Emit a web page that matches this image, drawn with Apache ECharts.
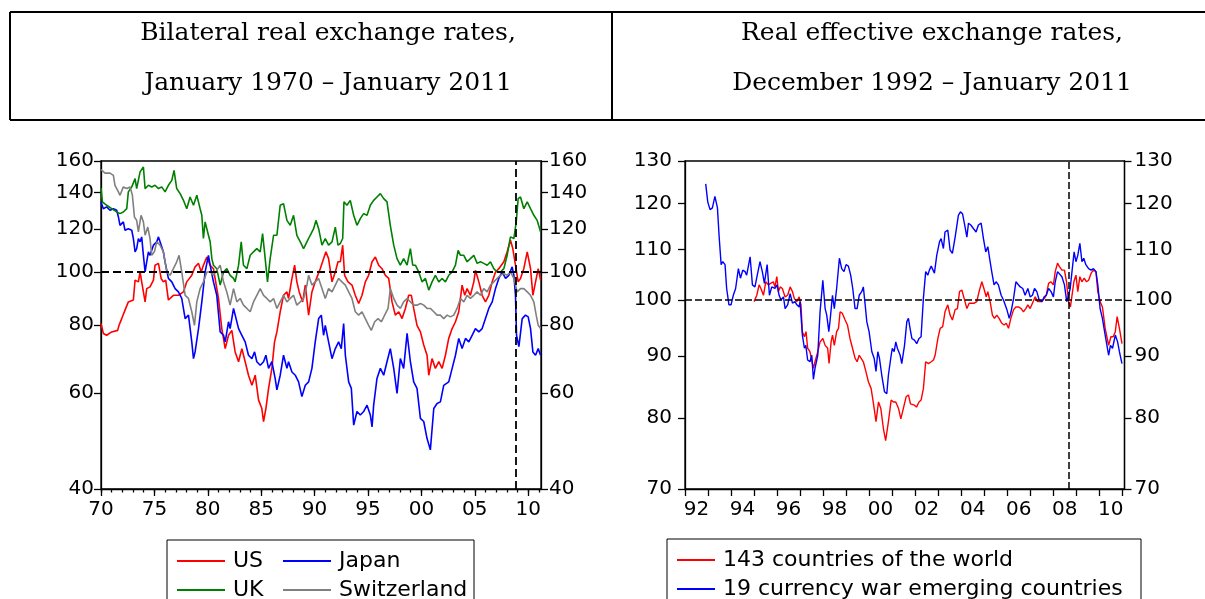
<!DOCTYPE html>
<html><head><meta charset="utf-8">
<script src="https://cdn.jsdelivr.net/npm/echarts@6.0.0/dist/echarts.min.js"></script>
<style>html,body{margin:0;padding:0;background:#fff}#c{width:1205px;height:599px}</style>
</head><body><div id="c"></div>
<script>
// ---- Left panel: bilateral real exchange rates (decimal year, index) ----
const usData = [[1970.00,80.5],[1970.22,77.2],[1970.53,76.6],[1971.00,77.7],[1971.56,78.2],[1971.69,79.9],[1971.94,82.2],[1972.25,85.2],[1972.56,88.2],[1973.03,88.9],[1973.19,96.7],[1973.50,96.0],[1973.66,100.1],[1973.81,96.0],[1974.13,88.2],[1974.28,93.3],[1974.59,94.0],[1974.91,96.7],[1975.06,103.0],[1975.38,103.8],[1975.63,97.4],[1975.84,96.0],[1976.06,96.7],[1976.31,88.9],[1976.78,90.7],[1977.25,90.7],[1977.72,92.0],[1978.03,96.0],[1978.50,98.7],[1978.81,102.3],[1979.13,103.8],[1979.38,100.1],[1979.59,103.0],[1979.91,106.6],[1980.22,103.0],[1980.53,101.5],[1981.00,89.5],[1981.31,78.8],[1981.63,72.4],[1981.94,76.6],[1982.25,78.2],[1982.56,71.4],[1982.88,68.5],[1983.19,72.4],[1983.50,68.5],[1983.81,64.7],[1984.13,62.0],[1984.44,64.7],[1984.75,58.3],[1985.06,56.2],[1985.22,53.2],[1985.44,56.2],[1985.69,61.2],[1986.00,66.6],[1986.25,74.5],[1986.47,77.7],[1986.78,84.6],[1987.09,90.7],[1987.41,92.0],[1987.56,89.5],[1987.88,97.4],[1988.13,103.0],[1988.34,96.0],[1988.56,92.0],[1988.88,88.2],[1989.13,94.7],[1989.44,83.4],[1989.75,92.0],[1990.06,96.0],[1990.53,101.5],[1990.84,105.9],[1991.06,109.0],[1991.31,105.9],[1991.63,96.0],[1991.94,100.1],[1992.19,104.5],[1992.41,104.5],[1992.63,112.1],[1992.81,98.7],[1993.13,96.0],[1993.50,94.7],[1993.81,90.7],[1994.13,87.6],[1994.44,90.7],[1994.75,96.0],[1995.06,98.7],[1995.38,104.5],[1995.69,106.6],[1996.00,103.0],[1996.31,101.5],[1996.63,98.7],[1996.94,97.4],[1997.25,88.2],[1997.56,83.4],[1997.88,84.6],[1998.19,82.2],[1998.50,85.8],[1998.81,90.7],[1999.06,90.7],[1999.28,85.8],[1999.59,79.9],[1999.91,77.7],[2000.22,73.5],[2000.53,70.4],[2000.69,64.7],[2001.00,69.4],[2001.31,66.6],[2001.63,68.5],[2001.94,66.6],[2002.25,70.4],[2002.56,75.6],[2002.88,78.8],[2003.19,81.1],[2003.50,84.6],[2003.81,94.7],[2004.06,90.7],[2004.28,93.3],[2004.59,90.7],[2004.91,96.0],[2005.06,100.8],[2005.38,96.0],[2005.69,90.7],[2006.00,88.2],[2006.31,90.7],[2006.63,96.0],[2006.94,100.1],[2007.25,101.5],[2007.72,104.5],[2008.03,109.0],[2008.34,114.5],[2008.56,110.5],[2008.81,103.0],[2009.06,96.0],[2009.28,97.4],[2009.59,101.5],[2009.91,109.0],[2010.22,101.5],[2010.44,90.7],[2010.69,96.0],[2010.94,101.5],[2011.16,96.7]];

const japanData = [[1970.00,134.6],[1970.22,130.8],[1970.53,131.8],[1970.84,129.9],[1971.16,130.8],[1971.47,129.9],[1971.63,126.3],[1971.78,121.9],[1972.09,123.7],[1972.25,119.4],[1972.56,120.2],[1972.88,119.4],[1973.03,115.3],[1973.19,109.0],[1973.34,110.5],[1973.50,115.3],[1973.66,113.7],[1973.81,116.1],[1973.97,107.4],[1974.13,100.1],[1974.28,104.5],[1974.44,109.0],[1974.59,107.4],[1974.91,112.1],[1975.22,113.7],[1975.38,116.1],[1975.53,113.7],[1975.84,109.0],[1976.00,104.5],[1976.31,97.4],[1976.63,96.0],[1976.94,93.3],[1977.25,92.0],[1977.56,89.5],[1977.88,82.2],[1978.19,83.4],[1978.50,74.5],[1978.66,69.4],[1978.81,71.4],[1979.13,78.8],[1979.44,88.2],[1979.75,100.1],[1980.06,107.4],[1980.22,103.0],[1980.53,96.0],[1980.84,90.7],[1981.16,77.7],[1981.47,76.6],[1981.63,74.5],[1981.94,81.1],[1982.09,78.8],[1982.41,85.8],[1982.56,85.2],[1982.88,78.8],[1983.19,76.6],[1983.50,74.5],[1983.81,70.4],[1984.13,69.4],[1984.38,71.4],[1984.59,68.5],[1984.91,67.5],[1985.22,68.5],[1985.44,70.4],[1985.69,66.6],[1986.00,68.5],[1986.31,63.8],[1986.47,60.8],[1986.78,64.7],[1987.09,70.4],[1987.41,66.6],[1987.56,68.5],[1987.88,65.6],[1988.19,64.7],[1988.50,62.9],[1988.81,59.1],[1989.13,62.0],[1989.44,62.9],[1989.75,66.6],[1990.06,74.5],[1990.38,82.2],[1990.63,83.4],[1990.84,76.6],[1991.00,79.9],[1991.31,74.5],[1991.63,69.4],[1991.94,72.4],[1992.25,74.5],[1992.50,72.4],[1992.72,80.5],[1992.88,70.4],[1993.19,62.9],[1993.44,61.2],[1993.66,52.4],[1993.97,55.5],[1994.28,54.7],[1994.59,55.5],[1994.91,57.0],[1995.22,54.7],[1995.38,52.0],[1995.53,57.0],[1995.84,63.8],[1996.16,66.6],[1996.47,64.7],[1996.78,68.5],[1997.09,72.4],[1997.41,66.6],[1997.72,59.9],[1998.03,69.4],[1998.34,66.6],[1998.66,77.2],[1998.97,68.5],[1999.28,62.9],[1999.59,61.2],[1999.91,53.9],[2000.22,53.2],[2000.53,49.5],[2000.84,47.2],[2001.16,56.2],[2001.47,57.4],[2001.78,57.8],[2002.09,62.0],[2002.56,62.9],[2002.88,66.6],[2003.19,70.4],[2003.50,75.6],[2003.81,72.4],[2004.13,75.6],[2004.44,74.5],[2004.75,76.6],[2005.06,78.8],[2005.38,77.7],[2005.69,78.8],[2006.00,82.2],[2006.31,85.8],[2006.63,88.2],[2006.94,93.3],[2007.25,97.4],[2007.56,100.1],[2007.88,97.4],[2008.19,98.7],[2008.50,102.3],[2008.66,98.7],[2008.81,90.7],[2008.91,76.6],[2009.13,73.0],[2009.44,82.2],[2009.75,83.4],[2010.00,82.8],[2010.22,78.8],[2010.44,71.4],[2010.69,70.4],[2010.94,72.4],[2011.16,70.4]];

const ukData = [[1970.00,142.8],[1970.13,134.6],[1970.53,132.7],[1971.00,130.8],[1971.47,129.0],[1971.78,128.1],[1972.09,129.0],[1972.41,130.8],[1972.56,140.4],[1972.88,143.4],[1973.19,148.5],[1973.34,142.4],[1973.66,152.8],[1973.97,156.0],[1974.13,142.4],[1974.44,144.4],[1974.75,143.4],[1975.06,144.4],[1975.38,142.4],[1975.69,143.4],[1976.00,140.4],[1976.31,144.4],[1976.63,147.4],[1976.84,153.8],[1977.09,142.4],[1977.41,139.4],[1977.72,135.5],[1978.03,130.8],[1978.34,137.4],[1978.66,132.7],[1978.97,138.4],[1979.28,130.8],[1979.44,127.2],[1979.59,115.3],[1979.75,123.7],[1980.06,116.9],[1980.22,113.7],[1980.38,105.9],[1980.53,103.0],[1980.84,101.5],[1981.16,94.7],[1981.47,100.1],[1981.78,101.5],[1982.09,98.7],[1982.41,97.4],[1982.56,96.0],[1982.88,103.0],[1983.13,113.7],[1983.34,103.0],[1983.66,101.5],[1983.97,107.4],[1984.28,109.0],[1984.59,110.5],[1984.91,109.0],[1985.13,117.7],[1985.31,109.0],[1985.59,96.0],[1985.84,105.9],[1986.16,116.9],[1986.47,116.9],[1986.78,132.7],[1987.09,133.6],[1987.41,124.5],[1987.72,121.9],[1988.03,127.2],[1988.34,116.9],[1988.66,113.7],[1988.97,110.5],[1989.28,113.7],[1989.59,116.9],[1989.91,120.2],[1990.13,124.5],[1990.38,120.2],[1990.69,112.1],[1991.00,115.3],[1991.31,112.1],[1991.63,113.7],[1991.94,121.0],[1992.19,112.1],[1992.41,112.9],[1992.63,115.3],[1992.75,134.6],[1993.03,132.7],[1993.34,135.5],[1993.66,127.2],[1993.97,121.9],[1994.28,125.4],[1994.59,128.1],[1994.91,127.2],[1995.22,132.7],[1995.53,135.5],[1995.84,137.4],[1996.16,139.4],[1996.47,136.5],[1996.78,134.6],[1997.09,121.9],[1997.41,112.1],[1997.72,105.9],[1998.03,103.0],[1998.34,105.9],[1998.66,103.0],[1998.97,110.5],[1999.19,103.0],[1999.44,103.0],[1999.75,100.1],[2000.06,96.0],[2000.38,97.4],[2000.69,92.7],[2001.00,96.0],[2001.31,98.7],[2001.63,96.0],[2001.94,97.4],[2002.25,96.0],[2002.56,98.7],[2002.88,100.1],[2003.19,103.0],[2003.44,109.7],[2003.66,107.4],[2003.97,107.4],[2004.28,104.5],[2004.59,105.9],[2004.91,107.4],[2005.22,103.8],[2005.53,104.5],[2005.84,103.8],[2006.16,103.0],[2006.47,104.5],[2006.78,101.5],[2007.09,100.1],[2007.41,100.1],[2007.72,101.5],[2008.03,107.4],[2008.34,116.1],[2008.66,115.3],[2008.88,123.7],[2009.06,136.5],[2009.28,137.4],[2009.59,130.8],[2009.91,134.6],[2010.22,130.8],[2010.53,127.2],[2010.84,124.5],[2011.16,118.6]];

const swissData = [[1970.00,154.2],[1970.38,152.0],[1970.84,152.0],[1971.16,150.6],[1971.31,144.4],[1971.63,140.4],[1971.78,138.4],[1972.09,143.4],[1972.41,142.4],[1972.72,143.4],[1972.94,138.4],[1973.13,126.3],[1973.34,124.5],[1973.50,118.6],[1973.75,127.2],[1973.97,123.7],[1974.13,116.9],[1974.38,121.0],[1974.59,115.3],[1974.75,107.4],[1975.00,109.0],[1975.22,113.7],[1975.53,112.1],[1975.84,109.0],[1976.16,100.1],[1976.47,98.7],[1976.78,101.5],[1977.09,104.5],[1977.31,107.4],[1977.56,100.1],[1977.88,90.7],[1978.19,89.5],[1978.50,84.6],[1978.75,79.9],[1978.97,88.2],[1979.28,93.3],[1979.59,96.0],[1979.91,100.1],[1980.22,100.1],[1980.53,98.7],[1980.84,100.8],[1981.16,103.0],[1981.47,96.0],[1981.78,92.0],[1982.09,87.0],[1982.41,93.3],[1982.72,88.2],[1983.03,89.5],[1983.34,87.0],[1983.66,85.8],[1983.97,84.6],[1984.28,88.2],[1984.59,90.7],[1984.91,93.3],[1985.22,90.7],[1985.53,89.5],[1985.84,88.2],[1986.16,89.5],[1986.47,85.8],[1986.78,88.2],[1987.09,90.7],[1987.41,88.2],[1987.72,89.5],[1988.03,90.7],[1988.34,87.0],[1988.66,88.2],[1988.97,89.5],[1989.28,94.7],[1989.44,98.7],[1989.75,94.7],[1990.06,96.0],[1990.38,97.4],[1990.69,93.3],[1991.00,89.5],[1991.31,93.3],[1991.63,92.0],[1991.94,94.7],[1992.25,97.4],[1992.56,96.0],[1992.88,94.7],[1993.19,92.0],[1993.50,89.5],[1993.81,84.6],[1994.13,83.4],[1994.44,84.6],[1994.75,82.2],[1995.06,79.9],[1995.31,78.2],[1995.63,81.1],[1995.94,82.2],[1996.25,81.1],[1996.56,83.4],[1996.88,85.8],[1997.09,93.3],[1997.41,89.5],[1997.72,87.0],[1998.03,85.8],[1998.34,88.2],[1998.66,89.5],[1998.97,88.2],[1999.28,87.0],[1999.59,87.0],[1999.91,87.6],[2000.22,87.0],[2000.53,85.8],[2000.84,85.8],[2001.16,84.6],[2001.47,83.4],[2001.78,83.4],[2002.09,82.2],[2002.41,83.4],[2002.72,82.8],[2003.03,83.4],[2003.34,85.8],[2003.66,89.5],[2003.97,88.2],[2004.28,90.7],[2004.59,89.5],[2004.91,90.7],[2005.22,92.0],[2005.53,90.7],[2005.84,93.3],[2006.16,92.0],[2006.47,94.7],[2006.78,96.0],[2007.09,97.4],[2007.41,98.7],[2007.72,99.4],[2008.03,98.7],[2008.34,100.1],[2008.66,97.4],[2008.97,92.0],[2009.28,93.3],[2009.59,93.3],[2009.91,92.0],[2010.22,90.7],[2010.53,88.2],[2010.75,83.4],[2010.94,79.9],[2011.16,78.8]];

// ---- Right panel: real effective exchange rates ----
const worldData = [[1995.00,99.7],[1995.12,100.9],[1995.22,102.9],[1995.30,102.2],[1995.41,100.9],[1995.51,103.5],[1995.62,102.9],[1995.72,103.2],[1995.84,103.5],[1995.91,102.5],[1995.99,104.5],[1996.06,101.6],[1996.14,102.5],[1996.23,102.2],[1996.35,100.6],[1996.46,100.9],[1996.57,102.5],[1996.67,101.6],[1996.75,100.3],[1996.86,99.7],[1996.96,100.6],[1997.04,99.1],[1997.10,94.2],[1997.19,93.3],[1997.26,94.2],[1997.33,91.3],[1997.43,90.7],[1997.51,90.7],[1997.58,87.9],[1997.65,89.0],[1997.77,90.7],[1997.87,92.4],[1997.99,93.0],[1998.09,91.8],[1998.20,91.3],[1998.26,88.7],[1998.35,92.4],[1998.41,93.6],[1998.49,91.8],[1998.59,94.2],[1998.67,94.8],[1998.74,97.8],[1998.84,97.5],[1998.96,96.3],[1999.06,95.4],[1999.17,93.0],[1999.28,91.3],[1999.39,89.6],[1999.48,89.0],[1999.57,90.1],[1999.65,89.6],[1999.75,89.0],[1999.86,87.4],[1999.97,85.7],[2000.09,84.6],[2000.20,82.0],[2000.30,79.5],[2000.41,82.5],[2000.51,81.5],[2000.62,78.5],[2000.72,76.7],[2000.84,79.5],[2000.96,82.8],[2001.06,82.5],[2001.16,82.5],[2001.28,81.5],[2001.38,79.9],[2001.49,81.5],[2001.61,83.3],[2001.71,83.6],[2001.80,82.2],[2001.88,82.5],[2001.97,82.0],[2002.06,81.7],[2002.17,82.5],[2002.26,82.8],[2002.36,84.6],[2002.46,89.0],[2002.58,88.7],[2002.70,89.0],[2002.80,89.3],[2002.87,90.1],[2002.99,93.0],[2003.09,94.8],[2003.20,95.1],[2003.30,97.8],[2003.42,99.1],[2003.52,97.2],[2003.62,96.3],[2003.74,98.2],[2003.84,98.4],[2003.93,101.6],[2004.03,101.9],[2004.13,100.3],[2004.25,98.4],[2004.35,99.4],[2004.46,99.4],[2004.57,99.4],[2004.68,99.7],[2004.78,101.6],[2004.90,103.5],[2004.99,102.2],[2005.09,100.6],[2005.16,101.6],[2005.26,99.7],[2005.36,97.2],[2005.45,96.6],[2005.55,97.2],[2005.65,96.6],[2005.77,95.7],[2005.87,95.4],[2005.96,95.7],[2006.06,94.8],[2006.16,96.6],[2006.28,98.2],[2006.38,98.7],[2006.49,98.7],[2006.61,98.4],[2006.71,97.8],[2006.81,98.4],[2006.90,99.1],[2007.00,98.4],[2007.10,99.4],[2007.22,100.6],[2007.32,99.7],[2007.41,99.7],[2007.51,99.7],[2007.62,100.3],[2007.70,100.9],[2007.80,103.2],[2007.90,103.5],[2008.01,102.9],[2008.09,105.5],[2008.19,107.2],[2008.26,106.6],[2008.38,105.8],[2008.49,105.8],[2008.58,103.5],[2008.67,99.7],[2008.75,98.7],[2008.81,98.4],[2008.90,103.5],[2008.99,104.8],[2009.07,101.6],[2009.16,104.5],[2009.25,103.5],[2009.35,104.2],[2009.45,103.5],[2009.54,103.8],[2009.65,105.2],[2009.75,105.8],[2009.86,105.5],[2009.94,101.6],[2010.04,99.7],[2010.14,98.7],[2010.26,94.8],[2010.41,91.8],[2010.51,93.3],[2010.61,93.3],[2010.70,94.2],[2010.78,96.9],[2010.88,94.8],[2010.99,92.1]];

const emergingData = [[1992.90,124.5],[1992.99,120.3],[1993.09,118.6],[1993.19,119.0],[1993.30,121.6],[1993.41,119.0],[1993.48,113.0],[1993.57,106.9],[1993.64,107.5],[1993.74,106.9],[1993.81,102.2],[1993.91,99.1],[1994.00,99.1],[1994.10,100.9],[1994.20,102.2],[1994.32,106.1],[1994.41,104.2],[1994.51,105.8],[1994.61,105.5],[1994.68,104.8],[1994.83,108.5],[1994.93,102.9],[1995.04,102.5],[1995.14,104.8],[1995.26,107.5],[1995.36,105.5],[1995.45,103.2],[1995.57,106.9],[1995.67,100.9],[1995.77,102.5],[1995.91,102.2],[1996.00,102.9],[1996.09,100.9],[1996.17,100.0],[1996.28,100.6],[1996.35,98.4],[1996.46,99.1],[1996.57,101.2],[1996.67,99.4],[1996.78,99.7],[1996.86,99.1],[1996.96,98.7],[1997.00,99.7],[1997.10,93.6],[1997.19,91.3],[1997.25,91.8],[1997.33,89.3],[1997.43,89.0],[1997.51,90.1],[1997.58,86.1],[1997.65,87.9],[1997.77,90.1],[1997.87,97.8],[1997.99,103.8],[1998.09,98.4],[1998.16,97.2],[1998.25,94.2],[1998.30,96.0],[1998.41,100.9],[1998.49,98.4],[1998.59,102.2],[1998.71,108.2],[1998.81,106.1],[1998.91,105.5],[1999.00,106.9],[1999.10,106.6],[1999.20,104.8],[1999.29,102.2],[1999.39,98.4],[1999.48,98.4],[1999.57,100.9],[1999.68,101.6],[1999.75,102.5],[1999.83,99.1],[1999.90,96.0],[2000.00,94.2],[2000.12,90.7],[2000.22,89.6],[2000.30,87.4],[2000.38,90.7],[2000.45,89.6],[2000.55,86.8],[2000.67,84.1],[2000.77,83.8],[2000.84,86.8],[2000.96,90.1],[2001.01,91.3],[2001.09,90.7],[2001.16,92.4],[2001.23,91.3],[2001.35,90.1],[2001.42,88.7],[2001.54,91.8],[2001.64,96.0],[2001.71,96.6],[2001.78,94.8],[2001.86,93.0],[2001.97,92.7],[2002.07,92.1],[2002.17,93.0],[2002.26,93.3],[2002.36,100.3],[2002.46,105.5],[2002.55,104.8],[2002.62,105.8],[2002.70,106.6],[2002.77,106.9],[2002.84,105.2],[2002.94,108.8],[2003.06,111.6],[2003.13,112.3],[2003.23,110.2],[2003.30,113.7],[2003.42,114.1],[2003.52,109.9],[2003.62,109.2],[2003.74,112.6],[2003.81,113.0],[2003.88,117.3],[2003.97,118.1],[2004.06,117.7],[2004.14,115.6],[2004.25,112.6],[2004.32,115.6],[2004.42,115.2],[2004.54,114.4],[2004.65,113.7],[2004.75,115.2],[2004.87,115.6],[2004.97,112.3],[2005.07,109.5],[2005.16,110.6],[2005.26,107.5],[2005.33,105.5],[2005.43,102.9],[2005.52,103.5],[2005.62,102.9],[2005.74,100.9],[2005.84,100.0],[2005.91,99.7],[2005.99,98.2],[2006.09,96.6],[2006.17,97.8],[2006.28,100.3],[2006.38,103.5],[2006.46,103.2],[2006.57,102.5],[2006.68,102.2],[2006.78,100.9],[2006.90,102.2],[2007.00,100.6],[2007.10,100.9],[2007.19,102.2],[2007.29,101.6],[2007.39,100.0],[2007.51,99.7],[2007.61,100.6],[2007.70,100.9],[2007.80,102.2],[2007.91,101.6],[2008.01,100.6],[2008.09,103.5],[2008.19,105.5],[2008.26,105.2],[2008.38,104.5],[2008.49,102.9],[2008.59,99.7],[2008.67,100.9],[2008.74,102.2],[2008.81,102.2],[2008.91,109.5],[2008.99,107.5],[2009.07,108.8],[2009.16,111.3],[2009.25,107.5],[2009.33,108.2],[2009.42,106.9],[2009.54,106.1],[2009.65,105.8],[2009.75,106.1],[2009.86,105.5],[2009.94,102.9],[2010.04,98.4],[2010.14,96.6],[2010.26,93.6],[2010.41,90.1],[2010.49,91.8],[2010.58,91.3],[2010.70,93.6],[2010.80,92.4],[2010.88,90.7],[2010.99,88.7]];

// ---- Tick values ----
const leftYTicks = [40, 60, 80, 100, 120, 140, 160];
const rightYTicks = [70, 80, 90, 100, 110, 120, 130];
const leftXMajor = [1970, 1975, 1980, 1985, 1990, 1995, 2000, 2005, 2010];
const leftXMinor = [1970,1971,1972,1973,1974,1975,1976,1977,1978,1979,1980,1981,1982,1983,1984,1985,1986,1987,1988,1989,1990,1991,1992,1993,1994,1995,1996,1997,1998,1999,2000,2001,2002,2003,2004,2005,2006,2007,2008,2009,2010,2011];
const rightXTicks = [1992,1993,1994,1995,1996,1997,1998,1999,2000,2001,2002,2003,2004,2005,2006,2007,2008,2009,2010,2011];
const rightXLabels = [1992.5,1994.5,1996.5,1998.5,2000.5,2002.5,2004.5,2006.5,2008.5,2010.5];
const leftCrisis = 2008.8, rightCrisis = 2008.67, baseLevel = 100;

const FONT = 'DejaVu Sans';
const yr2 = v => String(Math.floor(v + 1e-6) % 100).padStart(2, '0');
const AX = '#000';

function yAxisCfg(grid, pos, min, max, ticks, margin) {
  return {
    type: 'log', logBase: 10, gridIndex: grid, position: pos, min, max,
    axisLine: { show: true, onZero: false, lineStyle: { color: AX, width: 1.3 } },
    axisTick: { show: true, inside: false, length: 7, customValues: ticks, lineStyle: { color: AX, width: 1.3 } },
    axisLabel: { show: true, customValues: ticks, margin, color: '#000', fontFamily: FONT, fontSize: 20,
      formatter: v => String(Math.round(v)) },
    splitLine: { show: false }, minorTick: { show: false }, minorSplitLine: { show: false }
  };
}
function xAxisCfg(grid, min, max, ticks, tickLen, labels, showLine) {
  return {
    type: 'value', gridIndex: grid, position: 'bottom', min, max,
    axisLine: { show: showLine, onZero: false, lineStyle: { color: AX, width: 1.3 } },
    axisTick: { show: true, inside: false, length: tickLen, customValues: ticks, lineStyle: { color: AX, width: 1.3 } },
    axisLabel: labels ? { show: true, customValues: labels, margin: 11, color: '#000', fontFamily: FONT, fontSize: 20,
      formatter: v => yr2(v) } : { show: false },
    splitLine: { show: false }, minorTick: { show: false }
  };
}
function lineSeries(name, data, color, xi, yi, width, mark) {
  const s = {
    name, type: 'line', data, xAxisIndex: xi, yAxisIndex: yi, showSymbol: false, symbol: 'none',
    lineStyle: { color, width }, itemStyle: { color }, z: 3
  };
  if (mark) s.markLine = mark;
  return s;
}
function dashMarks(xVal, w, dash) {
  return {
    silent: true, symbol: ['none', 'none'], label: { show: false }, animation: false,
    lineStyle: { color: '#000', type: dash, width: w },
    data: [{ yAxis: baseLevel }, { xAxis: xVal }]
  };
}

const legendText = { fontFamily: FONT, fontSize: 22, color: '#000', lineHeight: 22, padding: [0, 0, 0, 3] };
const serif = 'DejaVu Serif';
function legendCfg(left, top, names, iconW) {
  return { orient: 'vertical', left, top, height: 64, padding: 0, itemGap: 7, icon: 'rect', itemWidth: iconW, itemHeight: 2,
    data: names, textStyle: legendText, selectedMode: false };
}

const option = {
  animation: false,
  backgroundColor: '#fff',
  grid: [
    { left: 101, top: 161, width: 440, height: 328, show: true, borderColor: AX, borderWidth: 1.3, backgroundColor: 'transparent' },
    { left: 685, top: 161, width: 439.5, height: 328, show: true, borderColor: AX, borderWidth: 1.3, backgroundColor: 'transparent' }
  ],
  xAxis: [
    xAxisCfg(0, 1970, 2011.2, leftXMajor, 7, leftXMajor, true),
    xAxisCfg(0, 1970, 2011.2, leftXMinor, 3.5, null, false),
    xAxisCfg(1, 1992, 2011.1, rightXTicks, 7, rightXLabels, true)
  ],
  yAxis: [
    yAxisCfg(0, 'left', 40, 160, leftYTicks, 7),
    yAxisCfg(0, 'right', 40, 160, leftYTicks, 8),
    yAxisCfg(1, 'left', 70, 130, rightYTicks, 13),
    yAxisCfg(1, 'right', 70, 130, rightYTicks, 10)
  ],
  legend: [
    legendCfg(177, 550, ['US', 'UK'], 48),
    legendCfg(283, 550, ['Japan', 'Switzerland'], 48),
    legendCfg(677, 549, ['143 countries of the world', '19 currency war emerging countries'], 38)
  ],
  series: [
    lineSeries('US', usData, '#ff0000', 0, 0, 1.6, dashMarks(leftCrisis, 1.8, [8, 4])),
    lineSeries('Japan', japanData, '#0000ff', 0, 0, 1.6),
    lineSeries('UK', ukData, '#008000', 0, 0, 1.6),
    lineSeries('Switzerland', swissData, '#808080', 0, 0, 1.6),
    lineSeries('143 countries of the world', worldData, '#ff0000', 2, 2, 1.4, dashMarks(rightCrisis, 1.5, [7, 3])),
    lineSeries('19 currency war emerging countries', emergingData, '#0000ff', 2, 2, 1.4)
  ],
  graphic: [
    { type: 'line', shape: { x1: 10, y1: 12, x2: 1205, y2: 12 }, style: { stroke: '#000', lineWidth: 2 } },
    { type: 'line', shape: { x1: 10, y1: 120, x2: 1205, y2: 120 }, style: { stroke: '#000', lineWidth: 2 } },
    { type: 'line', shape: { x1: 10, y1: 12, x2: 10, y2: 120 }, style: { stroke: '#000', lineWidth: 2 } },
    { type: 'line', shape: { x1: 612, y1: 12, x2: 612, y2: 120 }, style: { stroke: '#000', lineWidth: 2 } },
    { type: 'text', x: 328, y: 33, style: { text: 'Bilateral real exchange rates,', fontFamily: serif, fontSize: 25, fill: '#000', align: 'center', verticalAlign: 'middle' } },
    { type: 'text', x: 328, y: 83, style: { text: 'January 1970 – January 2011', fontFamily: serif, fontSize: 25, fill: '#000', align: 'center', verticalAlign: 'middle' } },
    { type: 'text', x: 932, y: 33, style: { text: 'Real effective exchange rates,', fontFamily: serif, fontSize: 25, fill: '#000', align: 'center', verticalAlign: 'middle' } },
    { type: 'text', x: 932, y: 83, style: { text: 'December 1992 – January 2011', fontFamily: serif, fontSize: 25, fill: '#000', align: 'center', verticalAlign: 'middle' } },
    { type: 'rect', shape: { x: 167, y: 540, width: 307, height: 80 }, style: { stroke: '#000', lineWidth: 1, fill: 'none' }, z: -1 },
    { type: 'rect', shape: { x: 667, y: 539, width: 474, height: 80 }, style: { stroke: '#000', lineWidth: 1, fill: 'none' }, z: -1 }
  ]
};

const chart = echarts.init(document.getElementById('c'), null, { renderer: 'canvas' });
chart.setOption(option);
</script>
</body></html>
